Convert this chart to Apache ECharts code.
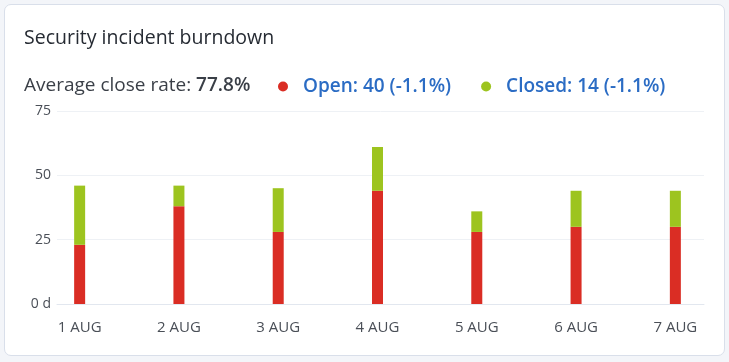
<!DOCTYPE html>
<html>
<head>
<meta charset="utf-8">
<script src="https://cdn.jsdelivr.net/npm/echarts@6/dist/echarts.min.js"></script>
<style>
  html, body { margin: 0; padding: 0; background: #f3f5f9; }
  #card { position: absolute; left: 4px; top: 4px; width: 719px; height: 350px; background: #fff;
          border: 1px solid #d9dfea; border-radius: 7px; }
  #chart { position: absolute; left: 0; top: 0; width: 729px; height: 362px; }
</style>
</head>
<body>
<div id="card"></div>
<div id="chart"></div>
<script>
const categories = ['1 AUG', '2 AUG', '3 AUG', '4 AUG', '5 AUG', '6 AUG', '7 AUG'];
const openValues = [23, 38, 28, 44, 28, 30, 30];
const closedValues = [23, 8, 17, 17, 8, 14, 14];
const yTicks = [0, 25, 50, 75];
const titleText = 'Security incident burndown';
const avgCloseRate = '77.8%';
const openSummary = 40;
const closedSummary = 14;
const openChange = '-1.1%';
const closedChange = '-1.1%';

const RED = '#da2d24';
const GREEN = '#9dc41f';
const FONT = '"Open Sans", "Noto Sans", sans-serif';

const chart = echarts.init(document.getElementById('chart'), null, { renderer: 'canvas' });
chart.setOption({
  backgroundColor: 'transparent',
  animation: false,
  textStyle: { fontFamily: FONT },
  title: [{
    text: titleText,
    left: 24, top: 28, padding: 0,
    textStyle: { fontFamily: FONT, fontSize: 19.5, fontWeight: 500, color: '#262b33' }
  }, {
    text: '{a|Average close rate: }{b|' + avgCloseRate + '}',
    left: 24, top: 76, padding: 0,
    textStyle: {
      fontWeight: 'normal',
      rich: {
        a: { fontFamily: FONT, fontSize: 19, fontWeight: 'normal', color: '#3a3f47' },
        b: { fontFamily: FONT, fontSize: 19, fontWeight: 600, color: '#3a3f47' }
      }
    }
  }],
  legend: {
    left: 278, top: 77, padding: 0,
    icon: 'circle', itemWidth: 10, itemHeight: 10, itemGap: 30,
    data: ['Open', 'Closed'],
    formatter: function (name) {
      return name === 'Open'
        ? 'Open: ' + openSummary + ' (' + openChange + ')'
        : 'Closed: ' + closedSummary + ' (' + closedChange + ')';
    },
    textStyle: { fontFamily: FONT, fontSize: 19, fontWeight: 600, color: '#2b6cc4', padding: [0, 0, 0, 10] }
  },
  grid: [
    { left: 57, right: 25, top: 111, bottom: 58 },
    { left: 30, right: 4, top: 111, bottom: 58 }
  ],
  xAxis: [
    { type: 'category', gridIndex: 0, data: categories, axisLabel: { show: false }, axisTick: { show: false },
      axisLine: { show: true, lineStyle: { color: '#e2e7ef', width: 1 } } },
    { type: 'category', gridIndex: 1, data: categories, axisTick: { show: false }, axisLine: { show: false },
      axisLabel: { fontFamily: FONT, fontSize: 15, color: '#4a4f57', margin: 16 } }
  ],
  yAxis: [
    { type: 'value', gridIndex: 0, min: yTicks[0], max: yTicks[yTicks.length - 1], interval: 25,
      axisLabel: { fontFamily: FONT, fontSize: 14, color: '#4a4f57', margin: 6,
        formatter: function (v) { return v === 0 ? '0 d' : String(v); } },
      splitLine: { lineStyle: { color: '#eef1f5', width: 1 } },
      axisLine: { show: false }, axisTick: { show: false } },
    { type: 'value', gridIndex: 1, min: yTicks[0], max: yTicks[yTicks.length - 1], interval: 25,
      show: false, splitLine: { show: false } }
  ],
  series: [
    { name: 'Open', type: 'bar', stack: 'total', xAxisIndex: 1, yAxisIndex: 1, data: openValues,
      barWidth: 11, itemStyle: { color: RED } },
    { name: 'Closed', type: 'bar', stack: 'total', xAxisIndex: 1, yAxisIndex: 1, data: closedValues,
      barWidth: 11, itemStyle: { color: GREEN } }
  ]
});
</script>
</body>
</html>
